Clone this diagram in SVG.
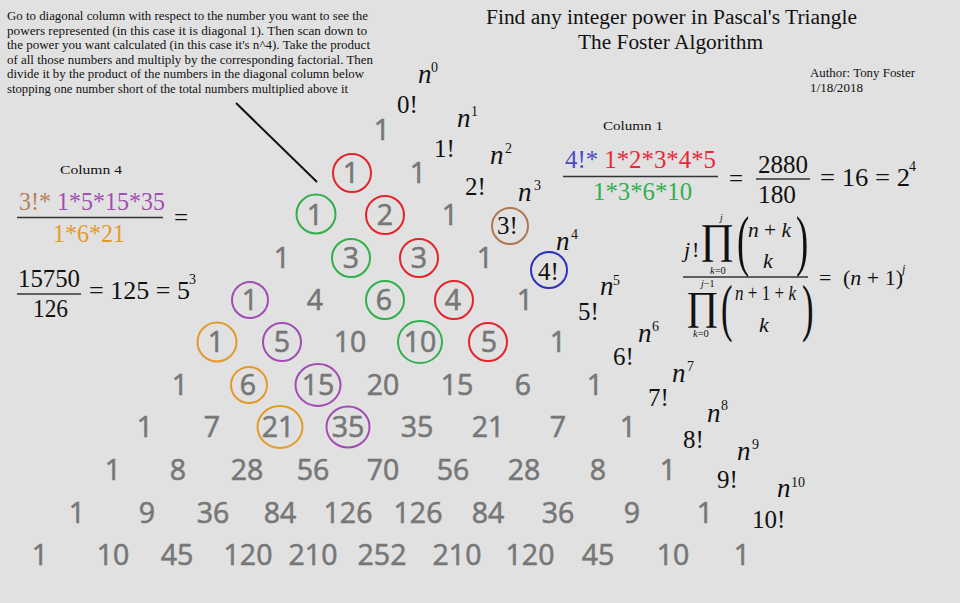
<svg xmlns="http://www.w3.org/2000/svg" width="960" height="603" viewBox="0 0 960 603">
<style>
.bg{fill:#e1e1e1}
.num{font-family:"Open Sans","DejaVu Sans",sans-serif;font-size:28.5px;fill:#777;stroke:#777;stroke-width:0.6px;text-anchor:middle}
.tm{font-family:"Liberation Serif","Times New Roman",serif;fill:#111}
.it{font-style:italic}
.c{fill:none;stroke-width:2}
.red{stroke:#e3242b}.green{stroke:#2fb04a}.purple{stroke:#a24db3}.orange{stroke:#e49a2a}.brown{stroke:#b07850}.blue{stroke:#3030c0}
.fr{stroke:#333;stroke-width:1.4}
.n{font-size:27px;font-style:italic}
.sup{font-size:14px}
.fa{font-size:25px}
</style>
<rect class="bg" x="0" y="0" width="960" height="603"/>

<g id="instructions" class="tm" font-size="13">
<text x="7" y="20" textLength="361" lengthAdjust="spacingAndGlyphs">Go to diagonal column with respect to the number you want to see the</text>
<text x="7" y="34.6" textLength="360" lengthAdjust="spacingAndGlyphs">powers represented (in this case it is diagonal 1). Then scan down to</text>
<text x="7" y="49.2" textLength="363" lengthAdjust="spacingAndGlyphs">the power you want calculated (in this case it's n^4). Take the product</text>
<text x="7" y="63.8" textLength="366" lengthAdjust="spacingAndGlyphs">of all those numbers and multiply by the corresponding factorial. Then</text>
<text x="7" y="78.4" textLength="357" lengthAdjust="spacingAndGlyphs">divide it by the product of the numbers in the diagonal column below</text>
<text x="7" y="93" textLength="341" lengthAdjust="spacingAndGlyphs">stopping one number short of the total numbers multiplied above it</text>
</g>

<g id="title" class="tm" font-size="20.5">
<text x="486" y="24" textLength="371" lengthAdjust="spacingAndGlyphs">Find any integer power in Pascal's Triangle</text>
<text x="578" y="48.5" textLength="185" lengthAdjust="spacingAndGlyphs">The Foster Algorithm</text>
</g>

<g id="author" class="tm" font-size="12.5">
<text x="810" y="77" textLength="105" lengthAdjust="spacingAndGlyphs">Author: Tony Foster</text>
<text x="810" y="92" textLength="53" lengthAdjust="spacingAndGlyphs">1/18/2018</text>
</g>

<g id="connectors">
<line x1="236" y1="103" x2="317" y2="182" stroke="#111" stroke-width="2"/>
</g>

<g id="circles">
<circle class="c red" cx="352" cy="173" r="19"/>
<circle class="c red" cx="385" cy="215" r="19"/>
<circle class="c red" cx="419" cy="258" r="19"/>
<circle class="c red" cx="454" cy="300" r="19"/>
<circle class="c red" cx="488" cy="342" r="19"/>
<circle class="c green" cx="316" cy="214" r="19.5"/>
<circle class="c green" cx="351" cy="258" r="19"/>
<circle class="c green" cx="385" cy="300" r="19"/>
<ellipse class="c green" cx="420" cy="342" rx="22" ry="21"/>
<circle class="c purple" cx="250" cy="300" r="18"/>
<circle class="c purple" cx="282" cy="342" r="19"/>
<ellipse class="c purple" cx="318" cy="385" rx="22.5" ry="21"/>
<ellipse class="c purple" cx="348" cy="427" rx="21.5" ry="20.5"/>
<circle class="c orange" cx="217" cy="342" r="19.5"/>
<circle class="c orange" cx="249" cy="385" r="18"/>
<ellipse class="c orange" cx="280" cy="427" rx="22.5" ry="21"/>
</g>

<g id="row0" class="num"><text x="382" y="140">1</text></g>
<g id="row1" class="num"><text x="351" y="183">1</text><text x="418" y="183">1</text></g>
<g id="row2" class="num"><text x="315" y="225">1</text><text x="385" y="225">2</text><text x="450" y="225">1</text></g>
<g id="row3" class="num"><text x="282" y="268">1</text><text x="351" y="268">3</text><text x="419" y="268">3</text><text x="485" y="268">1</text></g>
<g id="row4" class="num"><text x="250" y="310">1</text><text x="315" y="310">4</text><text x="384" y="310">6</text><text x="453" y="310">4</text><text x="525" y="310">1</text></g>
<g id="row5" class="num"><text x="216" y="352">1</text><text x="282" y="352">5</text><text x="350" y="352">10</text><text x="420" y="352">10</text><text x="489" y="352">5</text><text x="558" y="352">1</text></g>
<g id="row6" class="num"><text x="180" y="395">1</text><text x="248" y="395">6</text><text x="318" y="395">15</text><text x="383" y="395">20</text><text x="457" y="395">15</text><text x="523" y="395">6</text><text x="595" y="395">1</text></g>
<g id="row7" class="num"><text x="145" y="437">1</text><text x="212" y="437">7</text><text x="278" y="437">21</text><text x="348" y="437">35</text><text x="417" y="437">35</text><text x="488" y="437">21</text><text x="558" y="437">7</text><text x="628" y="437">1</text></g>
<g id="row8" class="num"><text x="113" y="480">1</text><text x="178" y="480">8</text><text x="247" y="480">28</text><text x="313" y="480">56</text><text x="383" y="480">70</text><text x="453" y="480">56</text><text x="524" y="480">28</text><text x="598" y="480">8</text><text x="668" y="480">1</text></g>
<g id="row9" class="num"><text x="77" y="523">1</text><text x="147" y="523">9</text><text x="213" y="523">36</text><text x="280" y="523">84</text><text x="348" y="523">126</text><text x="418" y="523">126</text><text x="488" y="523">84</text><text x="558" y="523">36</text><text x="632" y="523">9</text><text x="705" y="523">1</text></g>
<g id="row10" class="num"><text x="40" y="565">1</text><text x="113" y="565">10</text><text x="177" y="565">45</text><text x="248" y="565">120</text><text x="313" y="565">210</text><text x="382" y="565">252</text><text x="457" y="565">210</text><text x="530" y="565">120</text><text x="598" y="565">45</text><text x="673" y="565">10</text><text x="742" y="565">1</text></g>

<g id="powers" class="tm">
<text class="n" x="418" y="83">n</text><text class="sup" x="431" y="72">0</text>
<text class="n" x="457" y="127">n</text><text class="sup" x="471" y="116">1</text>
<text class="n" x="490" y="164">n</text><text class="sup" x="505" y="153">2</text>
<text class="n" x="518" y="201">n</text><text class="sup" x="534" y="190">3</text>
<text class="n" x="556" y="250">n</text><text class="sup" x="571" y="239">4</text>
<text class="n" x="600" y="295">n</text><text class="sup" x="613" y="285">5</text>
<text class="n" x="638" y="342">n</text><text class="sup" x="652" y="331">6</text>
<text class="n" x="672" y="382">n</text><text class="sup" x="687" y="371">7</text>
<text class="n" x="707" y="422">n</text><text class="sup" x="721" y="410">8</text>
<text class="n" x="737" y="460">n</text><text class="sup" x="752" y="449">9</text>
<text class="n" x="777" y="497">n</text><text class="sup" x="791" y="487">10</text>
</g>

<g id="factorials" class="tm fa">
<text x="397" y="113">0!</text>
<text x="434" y="157">1!</text>
<text x="465" y="195">2!</text>
<text x="497" y="234">3!</text>
<text x="538" y="280">4!</text>
<text x="578" y="320">5!</text>
<text x="613" y="365">6!</text>
<text x="648" y="406">7!</text>
<text x="683" y="448">8!</text>
<text x="717" y="488">9!</text>
<text x="752" y="528">10!</text>
<circle class="c brown" cx="510" cy="226" r="18"/>
<circle class="c blue" cx="549" cy="270" r="18"/>
</g>

<g id="column1" class="tm">
<text x="603" y="130" font-size="13.5" textLength="60" lengthAdjust="spacingAndGlyphs">Column 1</text>
<text x="565" y="168" font-size="25" textLength="151" lengthAdjust="spacingAndGlyphs"><tspan fill="#4a4ac8">4!* </tspan><tspan fill="#e8283a">1*2*3*4*5</tspan></text>
<line class="fr" x1="563" y1="176.5" x2="718" y2="176.5"/>
<text x="593" y="200" font-size="25" fill="#30b050" textLength="99" lengthAdjust="spacingAndGlyphs">1*3*6*10</text>
<text x="729" y="187" font-size="25">=</text>
<text x="758" y="173" font-size="26" textLength="50" lengthAdjust="spacingAndGlyphs">2880</text>
<line class="fr" x1="756" y1="179" x2="810" y2="179"/>
<text x="758" y="203" font-size="26" textLength="38" lengthAdjust="spacingAndGlyphs">180</text>
<text x="820" y="186" font-size="26" textLength="90" lengthAdjust="spacingAndGlyphs">= 16 = 2</text>
<text x="909" y="171" font-size="14">4</text>
</g>

<g id="column4" class="tm">
<text x="60" y="174" font-size="13.5" textLength="62" lengthAdjust="spacingAndGlyphs">Column 4</text>
<text x="19" y="210" font-size="24.5" textLength="146" lengthAdjust="spacingAndGlyphs"><tspan fill="#b5815a">3!* </tspan><tspan fill="#a24db3">1*5*15*35</tspan></text>
<line class="fr" x1="17" y1="217.5" x2="163" y2="217.5"/>
<text x="53" y="242" font-size="24.5" fill="#e49a2a" textLength="72" lengthAdjust="spacingAndGlyphs">1*6*21</text>
<text x="174" y="226" font-size="25">=</text>
<text x="18" y="287" font-size="25" textLength="62" lengthAdjust="spacingAndGlyphs">15750</text>
<line class="fr" x1="17" y1="294" x2="81" y2="294"/>
<text x="33" y="317" font-size="25" textLength="35" lengthAdjust="spacingAndGlyphs">126</text>
<text x="89" y="299" font-size="26" textLength="101" lengthAdjust="spacingAndGlyphs">= 125 = 5</text>
<text x="189" y="284" font-size="14">3</text>
</g>

<g id="formula" class="tm">
<text x="684" y="257" font-size="22" class="it">j</text><text x="692" y="257" font-size="22">!</text>
<text x="700" y="252.5" font-size="42">∏</text>
<text x="720" y="221" font-size="10" class="it">j</text>
<text x="710" y="274" font-size="10.5"><tspan class="it">k</tspan>=0</text>
<text x="737" y="263" font-size="67" transform="translate(737 0) scale(0.55 1) translate(-737 0)">(</text>
<text x="796" y="263" font-size="67" transform="translate(796 0) scale(0.55 1) translate(-796 0)">)</text>
<text x="748" y="237" font-size="22" class="it" textLength="43" lengthAdjust="spacingAndGlyphs">n<tspan font-style="normal"> + </tspan>k</text>
<text x="763" y="268" font-size="22" class="it">k</text>
<line class="fr" x1="683" y1="277" x2="808" y2="277"/>
<text x="686" y="319" font-size="40">∏</text>
<text x="701" y="287" font-size="10"><tspan class="it">j</tspan>−1</text>
<text x="693" y="337" font-size="10.5"><tspan class="it">k</tspan>=0</text>
<text x="721" y="329" font-size="63" transform="translate(721 0) scale(0.55 1) translate(-721 0)">(</text>
<text x="802" y="329" font-size="63" transform="translate(802 0) scale(0.55 1) translate(-802 0)">)</text>
<text x="735" y="300" font-size="22" class="it" textLength="61" lengthAdjust="spacingAndGlyphs">n<tspan font-style="normal"> + 1 + </tspan>k</text>
<text x="759" y="332" font-size="22" class="it">k</text>
<text x="819" y="285" font-size="22">=</text>
<text x="843" y="285" font-size="22">(<tspan class="it">n</tspan> + 1)</text>
<text x="902" y="273" font-size="12" class="it">j</text>
</g>
</svg>
